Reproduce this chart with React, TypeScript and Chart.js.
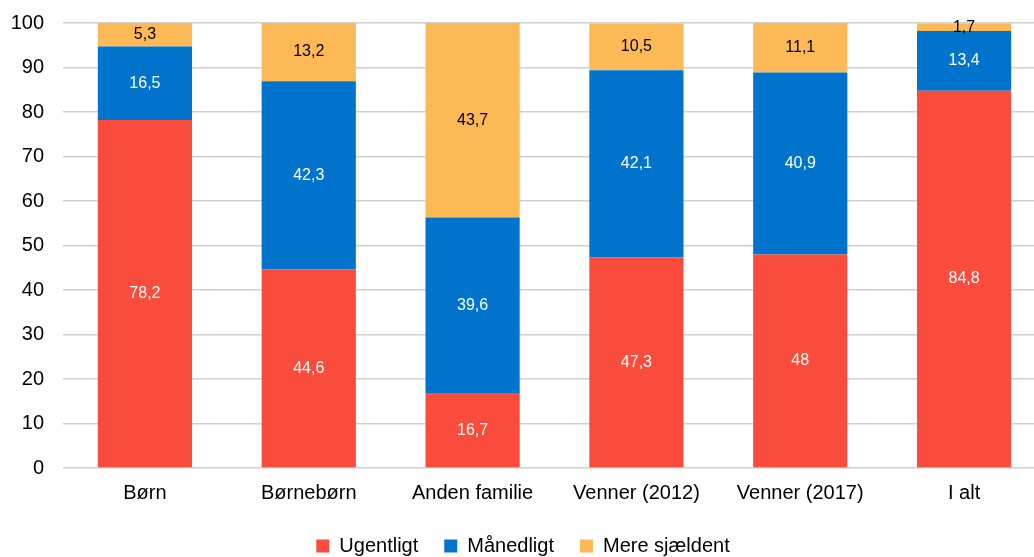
import React, { useEffect, useRef } from "react";
import { Chart, registerables } from "chart.js";

Chart.register(...registerables);

const categories = ["Børn", "Børnebørn", "Anden familie", "Venner (2012)", "Venner (2017)", "I alt"];
const ugentligt = [78.2, 44.6, 16.7, 47.3, 48, 84.8];
const maanedligt = [16.5, 42.3, 39.6, 42.1, 40.9, 13.4];
const sjaeldent = [5.3, 13.2, 43.7, 10.5, 11.1, 1.7];
const seriesNames = ["Ugentligt", "Månedligt", "Mere sjældent"];
const seriesColors = ["#F94C3C", "#0074CC", "#FDB955"];
const labelColors = ["#FFFFFF", "#FFFFFF", "#000000"];

const FONT = "'Liberation Sans', Arial, sans-serif";

const valueLabels = {
  id: "valueLabels",
  afterDatasetsDraw(chart: any) {
    const ctx = chart.ctx;
    ctx.save();
    ctx.font = `16px ${FONT}`;
    ctx.textAlign = "center";
    ctx.textBaseline = "middle";
    chart.data.datasets.forEach((ds: any, di: number) => {
      const meta = chart.getDatasetMeta(di);
      meta.data.forEach((bar: any, i: number) => {
        const v = ds.data[i];
        const { x, y, base } = bar.getProps(["x", "y", "base"], true);
        const cy = (y + base) / 2;
        ctx.fillStyle = labelColors[di];
        ctx.fillText(String(v).replace(".", ","), x, cy);
      });
    });
    ctx.restore();
  },
};

export default function App() {
  const ref = useRef<HTMLCanvasElement | null>(null);
  useEffect(() => {
    if (!ref.current) return;
    const data = [ugentligt, maanedligt, sjaeldent];
    const chart = new Chart(ref.current, {
      type: "bar",
      data: {
        labels: categories,
        datasets: seriesNames.map((n, i) => ({
          label: n,
          data: data[i],
          backgroundColor: seriesColors[i],
          borderWidth: 0,
          barPercentage: 0.575,
          categoryPercentage: 1,
        })),
      },
      options: {
        responsive: false,
        animation: false,
        layout: { padding: { top: 10, right: 42, left: 0, bottom: -9 } },
        plugins: {
          tooltip: { enabled: false },
          legend: {
            position: "bottom",
            labels: {
              font: { family: FONT, size: 20 },
              color: "#000",
              boxWidth: 13,
              boxHeight: 13,
              padding: 26,
            },
          },
        },
        scales: {
          x: {
            stacked: true,
            grid: { display: false },
            border: { display: false },
            ticks: { font: { family: FONT, size: 20 }, color: "#000", padding: 5 },
            afterFit: (s: any) => { s.height = 42; },
          },
          y: {
            stacked: true,
            min: 0,
            max: 100,
            grid: { color: "#D0D0D0", lineWidth: 1.5, drawTicks: false },
            border: { display: false },
            ticks: { stepSize: 10, font: { family: FONT, size: 20 }, color: "#000", padding: 19 },
            afterFit: (s: any) => { s.width = 63; },
          },
        },
      },
      plugins: [valueLabels],
    });
    return () => chart.destroy();
  }, []);
  return (
    <div style={{ position: "fixed", left: 0, top: 0, width: 1034, height: 557, overflow: "hidden", background: "#fff" }}>
      <canvas ref={ref} width={1088} height={565} style={{ width: 1088, height: 565, display: "block", marginTop: -8 }} />
    </div>
  );
}
